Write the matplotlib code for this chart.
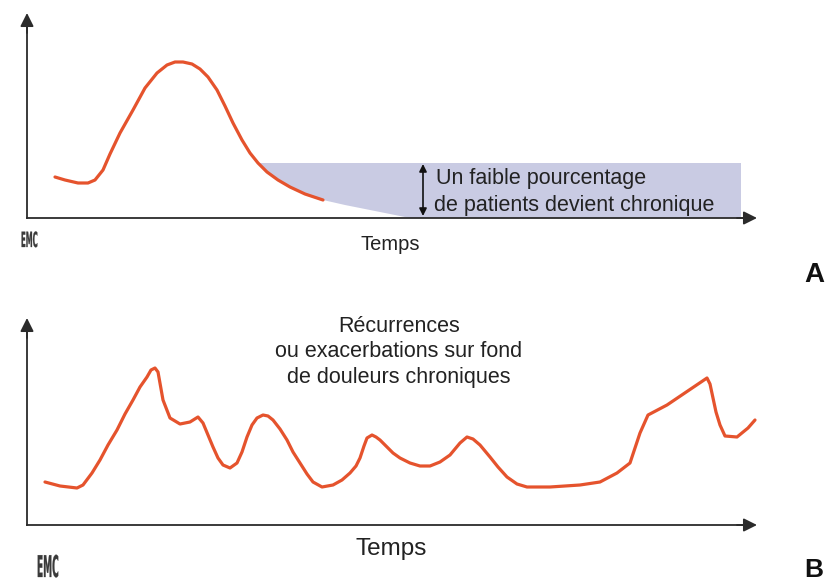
import numpy as np
import matplotlib
matplotlib.use("Agg")
import matplotlib.pyplot as plt
from matplotlib.textpath import TextPath
from matplotlib.patches import PathPatch, Polygon
from matplotlib.font_manager import FontProperties
from matplotlib.transforms import Affine2D

# Panel A: acute pain curve (pixel coords)
a_x = [55, 65, 78, 88, 95, 103, 110, 120, 133, 145, 157, 167, 175, 183, 192, 200,
       208, 217, 225, 233, 242, 250, 258, 267, 278, 290, 305, 323]
a_y = [177, 180, 183, 183, 180, 170, 154, 133, 110, 88, 73, 65, 62, 62, 64, 69,
       77, 90, 106, 123, 140, 153, 163, 172, 180, 187, 194, 200]

# lower edge of the shaded "chronic" zone, continuing the curve to the axis
shade_x = [323, 345, 365, 385, 400, 410]
shade_y = [200, 205, 209, 213, 216, 218]
shade_top = 163
shade_right = 741

# Panel B: recurrences on chronic pain
b_x = [45, 60, 77, 83, 92, 100, 108, 117, 125, 133, 140, 147, 151, 155, 158, 163, 170,
       180, 190, 198, 203, 208, 213, 218, 223, 230, 237, 242, 247, 252, 257, 263,
       268, 273, 280, 287, 293, 300, 307, 313, 322, 333, 342, 350, 356, 360, 364,
       367, 372, 376, 380, 386, 393, 400, 410, 420, 430, 440, 450, 460, 467, 473,
       480, 490, 498, 507, 517, 527, 550, 580, 600, 617, 630, 640, 648, 667, 707,
       710, 713, 716, 720, 725, 737, 748, 755]
b_y = [482, 486, 488, 485, 473, 460, 445, 430, 414, 400, 387, 377, 370, 368, 372, 400, 418,
       424, 422, 417, 423, 435, 447, 458, 465, 468, 463, 452, 437, 425, 418, 415,
       416, 420, 429, 440, 452, 463, 474, 482, 487, 485, 480, 473, 466, 458, 446,
       438, 435, 437, 440, 446, 453, 458, 463, 466, 466, 462, 455, 443, 437, 439,
       445, 457, 467, 477, 484, 487, 487, 485, 482, 473, 463, 433, 415, 405, 378,
       384, 398, 412, 425, 436, 437, 428, 420]

red = "#e5532d"
axis_col = "#2b2b2b"
shade_col = "#c9cbe3"
font = "Liberation Sans"

fig = plt.figure(figsize=(8.25, 5.82), dpi=100)
ax = fig.add_axes([0, 0, 1, 1])
ax.set_xlim(0, 825)
ax.set_ylim(582, 0)
ax.axis("off")


def draw_axes(x0, y0, ytop, xtip):
    ax.plot([x0, x0], [y0, ytop + 12], color=axis_col, lw=1.3)
    ax.plot([x0, xtip - 12], [y0, y0], color=axis_col, lw=1.3)
    ax.annotate("", xy=(x0, ytop), xytext=(x0, ytop + 20),
                arrowprops=dict(arrowstyle="-|>", mutation_scale=20,
                                color=axis_col, lw=1.3, shrinkA=0, shrinkB=0))
    ax.annotate("", xy=(xtip, y0), xytext=(xtip - 20, y0),
                arrowprops=dict(arrowstyle="-|>", mutation_scale=20,
                                color=axis_col, lw=1.3, shrinkA=0, shrinkB=0))


def emc_logo(x, y, h, sx):
    tp = TextPath((0, 0), "EMC", size=1,
                  prop=FontProperties(family="DejaVu Sans", weight="bold"))
    tr = Affine2D().scale(h * sx, -h).translate(x, y) + ax.transData
    ax.add_patch(PathPatch(tp, transform=tr, color="#3a3a3a", lw=0.2))


# ---- Panel A ----
top_idx = [i for i, v in enumerate(a_y) if i >= 10 and v >= shade_top]
poly = [(shade_right, shade_top), (shade_right, 218)]
poly += list(zip(shade_x[::-1], shade_y[::-1]))
poly += [(a_x[i], a_y[i]) for i in range(len(a_x) - 1, top_idx[0] - 1, -1)]
ax.add_patch(Polygon(poly, closed=True, facecolor=shade_col, edgecolor="none", zorder=1))

draw_axes(27, 218, 13, 757)
ax.plot(a_x, a_y, color=red, lw=2.3, solid_capstyle="round",
        solid_joinstyle="round", zorder=3)

ax.annotate("", xy=(423, 164), xytext=(423, 216),
            arrowprops=dict(arrowstyle="<|-|>", mutation_scale=11,
                            color="#111111", lw=1.2, shrinkA=0, shrinkB=0))
ax.text(436, 184, "Un faible pourcentage", fontsize=15.5, family=font,
        color="#222222", va="baseline")
ax.text(434, 211, "de patients devient chronique", fontsize=15.5, family=font,
        color="#222222", va="baseline")
ax.text(390, 250, "Temps", fontsize=14.5, family=font, color="#222222",
        ha="center", va="baseline")
emc_logo(21, 247, 21, 0.33)
ax.text(804, 282, "A", fontsize=20, family=font, weight="bold", color="#111111",
        va="baseline")

# ---- Panel B ----
draw_axes(27, 525, 318, 757)
ax.plot(b_x, b_y, color=red, lw=2.3, solid_capstyle="round",
        solid_joinstyle="round", zorder=3)
ax.text(399, 332, "Récurrences", fontsize=15.5, family=font, color="#222222",
        ha="center", va="baseline")
ax.text(399, 357, "ou exacerbations sur fond", fontsize=15.5, family=font,
        color="#222222", ha="center", va="baseline")
ax.text(399, 383, "de douleurs chroniques", fontsize=15.5, family=font,
        color="#222222", ha="center", va="baseline")
ax.text(391, 555, "Temps", fontsize=17.5, family=font, color="#222222",
        ha="center", va="baseline")
emc_logo(37, 577, 30, 0.3)
ax.text(804, 577, "B", fontsize=19, family=font, weight="bold", color="#111111",
        va="baseline")

fig.savefig("out.png", dpi=100)
